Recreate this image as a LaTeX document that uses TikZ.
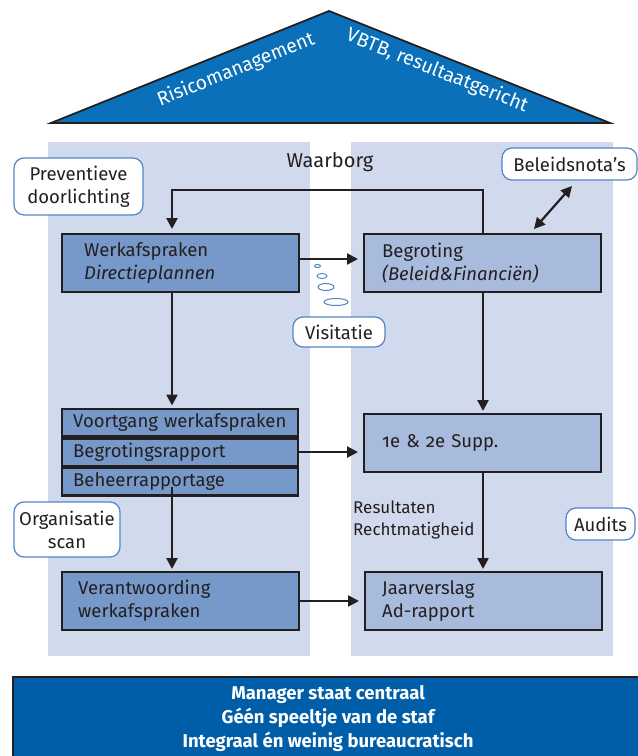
\documentclass[tikz,border=0pt]{standalone}
\usepackage{fontspec}
\setmainfont{Fira Sans}[Numbers=OldStyle]
\usetikzlibrary{arrows.meta}
\definecolor{colbg}{HTML}{D1DAEC}
\definecolor{lboxc}{HTML}{7799CA}
\definecolor{rboxc}{HTML}{A9BBDD}
\definecolor{triblue}{HTML}{0A70B9}
\definecolor{botblue}{HTML}{005EA8}
\definecolor{callb}{HTML}{4F86C6}
\definecolor{ink}{HTML}{231F20}
\tikzset{
  txt/.style={font=\fontsize{18.5}{23}\selectfont, text=ink},
  lbox/.style={txt, draw=ink, line width=2.4pt, fill=lboxc, anchor=north west, align=left, minimum width=237pt, minimum height=58pt},
  rbox/.style={txt, draw=ink, line width=2.4pt, fill=rboxc, anchor=north west, align=left, minimum width=237pt, minimum height=58pt},
  rowbox/.style={txt, draw=ink, line width=2.4pt, fill=lboxc, anchor=north west, minimum width=236pt, minimum height=27.3pt, inner xsep=11pt, inner ysep=0pt, text width=214pt, align=left},
  callout/.style={txt, draw=callb, line width=1.2pt, fill=white, rounded corners=10pt, align=center, inner sep=0pt},
  bubble/.style={draw=callb, line width=1pt, fill=white, ellipse},
  conn/.style={draw=ink, line width=2.4pt, -{Triangle[length=11pt,width=11pt]}},
}
\usetikzlibrary{shapes.geometric}
\begin{document}
\begin{tikzpicture}[x=1pt,y=-1pt]
\useasboundingbox (0,0) rectangle (638,756);
% background columns
\fill[colbg] (48,142) rectangle (310,656);
\fill[colbg] (351,142) rectangle (613,656);
% roof
\coordinate (tl) at (51,123);
\coordinate (tt) at (329,11);
\coordinate (tr) at (610,123);
\draw[fill=triblue, draw=ink, line width=1.8pt, line join=miter] (tl) -- (tt) -- (tr) -- cycle;
\node[font=\fontsize{19.5}{21}\selectfont, text=white, rotate=21.9] (risk) at (236,70) {Risicomanagement};
\node[font=\fontsize{19.5}{21}\selectfont, text=white, rotate=-21.9] (vbtb) at (437,71) {VBTB, resultaatgericht};
% title
\node[txt, font=\fontsize{20}{23}\selectfont] (waarborg) at (330,162) {Waarborg};
% boxes
\node[lbox, inner xsep=22pt, text width=193pt] (werk) at (61,233) {Werkafspraken\\\textit{Directieplannen}};
\node[rbox, inner xsep=18pt, text width=201pt] (begr) at (363,233) {Begroting\\\textit{(Beleid\&Financiën)}};
\node[rowbox] (v1) at (61,407.5) {Voortgang werkafspraken};
\node[rowbox, anchor=north] (v2) at (v1.south) {Begrotingsrapport};
\node[rowbox, anchor=north] (v3) at (v2.south) {Beheerrapportage};
\node[rbox, inner xsep=18pt, text width=201pt] (supp) at (363,413) {1e \& 2e Supp.};
\node[lbox, inner xsep=16pt, text width=205pt] (verant) at (61,571) {Verantwoording\\werkafspraken};
\node[rbox, inner xsep=17pt, text width=203pt] (jaar) at (364,571) {Jaarverslag\\Ad-rapport};
\node[txt, font=\fontsize{17}{21.5}\selectfont, anchor=west, align=left, inner xsep=0pt] (result) at (353,520) {Resultaten\\Rechtmatigheid};
% callouts
\node[callout, minimum width=129pt, minimum height=57pt] (prev) at (78.5,186.5) {Preventieve\\doorlichting};
\node[callout, minimum width=135pt, minimum height=32pt] (beleid) at (569.5,164) {Beleidsnota’s};
\node[callout, minimum width=92pt, minimum height=30pt] (visit) at (339,332) {Visitatie};
\node[callout, minimum width=106pt, minimum height=55pt] (org) at (67,529.5) {Organisatie\\scan};
\node[callout, minimum width=69pt, minimum height=32pt] (audit) at (600.5,524) {Audits};
% thought bubbles
\node[bubble, minimum width=6pt, minimum height=3pt, inner sep=0pt] (b1) at (317.5,266) {};
\node[bubble, minimum width=10pt, minimum height=5pt, inner sep=0pt] (b2) at (322,276) {};
\node[bubble, minimum width=16pt, minimum height=7pt, inner sep=0pt] (b3) at (326,287) {};
\node[bubble, minimum width=24pt, minimum height=7pt, inner sep=0pt] (b4) at (336,302) {};
% connectors
\coordinate (loopR) at (483,190);
\coordinate (loopL) at (172,190);
\draw[conn, shorten >=4pt] (begr.north -| loopR) -- (loopR) -- (loopL) -- (werk.north -| loopL);
\draw[conn, shorten >=5pt] (werk.east |- 0,259) -- (begr.west |- 0,259);
\draw[conn, shorten >=2pt] (werk.south -| loopL) -- (v1.north -| loopL);
\draw[conn, shorten >=5pt] (v2.east) -- (supp.west |- v2.east);
\draw[conn, shorten >=2pt] (begr.south -| loopR) -- (supp.north -| loopR);
\draw[conn, shorten >=2pt] (supp.south -| loopR) -- (jaar.north -| loopR);
\draw[conn, shorten >=2pt] (v3.south -| loopL) ++(0,-10) -- (verant.north -| loopL);
\draw[conn, shorten >=5pt] (verant.east |- 0,601) -- (jaar.west |- 0,601);
\draw[draw=ink, line width=2.2pt, {Triangle[length=11pt,width=11pt]}-{Triangle[length=11pt,width=11pt]}] (572,186) -- (534,229);
% bottom banner
\node[draw=ink, line width=2pt, fill=botblue, anchor=north west, minimum width=630pt, minimum height=84pt, text=white, align=center, font=\bfseries\fontsize{18.5}{24}\selectfont] (banner) at (12,676) {Manager staat centraal\\Géén speeltje van de staf\\Integraal én weinig bureaucratisch};
\end{tikzpicture}
\end{document}
